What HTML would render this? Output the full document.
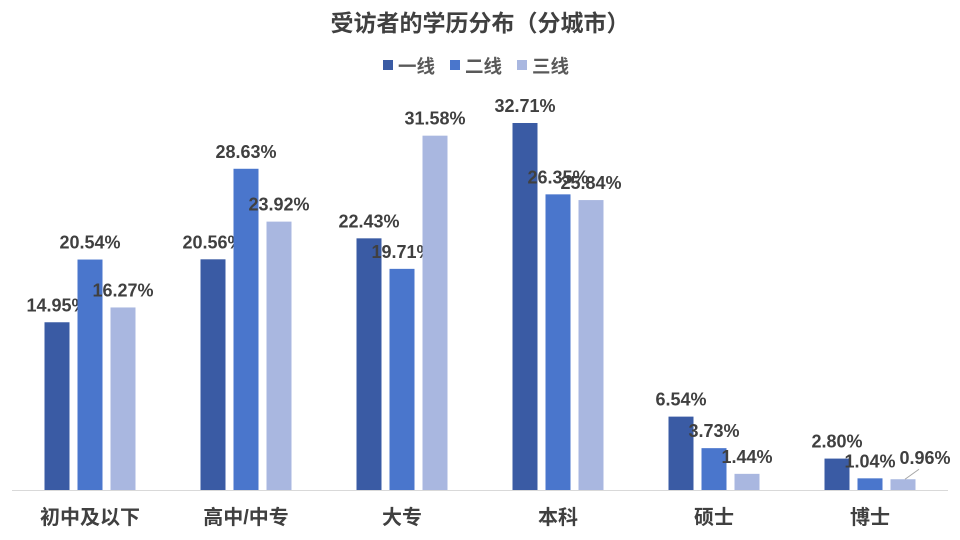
<!DOCTYPE html>
<html><head><meta charset="utf-8"><style>
body{margin:0;background:#fff}
svg{display:block;font-family:"Liberation Sans","Noto Sans CJK SC",sans-serif}
</style></head><body>
<svg id="c" width="960" height="540">
<text x="480" y="31" text-anchor="middle" font-size="23" font-weight="bold" fill="#404040">受访者的学历分布（分城市）</text>
<g>
<rect x="383" y="60" width="10" height="10" fill="#3A5BA4"/>
<text x="398" y="73" font-size="18.5" font-weight="bold" fill="#595959">一线</text>
<rect x="450" y="60" width="10" height="10" fill="#4A76CC"/>
<text x="465" y="73" font-size="18.5" font-weight="bold" fill="#595959">二线</text>
<rect x="517" y="60" width="10" height="10" fill="#A9B7E0"/>
<text x="532" y="73" font-size="18.5" font-weight="bold" fill="#595959">三线</text>
</g>
<line x1="12" y1="490.5" x2="948" y2="490.5" stroke="#D9D9D9"/>
</svg>
<script>
const categories=["初中及以下","高中/中专","大专","本科","硕士","博士"];
const tier1=[14.95,20.56,22.43,32.71,6.54,2.80];
const tier2=[20.54,28.63,19.71,26.35,3.73,1.04];
const tier3=[16.27,23.92,31.58,25.84,1.44,0.96];
const series=[tier1,tier2,tier3];
const seriesNames=["tier1","tier2","tier3"];
const colors=["#3A5BA4","#4A76CC","#A9B7E0"];
const svg=document.getElementById('c');
const NS="http://www.w3.org/2000/svg";
const base=490, pxPer=11.22, left=12, groupW=156, barW=25, step=33;
function y(v){return base-v*pxPer;}
function gx(i){return left+groupW*i+groupW/2;}
categories.forEach((cat,i)=>{
  const t=document.createElementNS(NS,'text');
  t.setAttribute('x',gx(i));t.setAttribute('y',524);
  t.setAttribute('text-anchor','middle');t.setAttribute('font-size','20');
  t.setAttribute('font-weight','bold');t.setAttribute('fill','#404040');
  t.textContent=cat;
  
  
  svg.appendChild(t);
  series.forEach((s,k)=>{
    const v=s[i];
    const bx=gx(i)+(k-1)*step-barW/2;
    const r=document.createElementNS(NS,'rect');
    r.setAttribute('x',bx);r.setAttribute('y',y(v));
    r.setAttribute('width',barW);r.setAttribute('height',base-y(v));
    r.setAttribute('fill',colors[k]);
    
    
    svg.appendChild(r);
    let lx=bx+barW/2, ly=y(v)-11;
    if(i===5&&k===2){lx+=22;ly=y(v)-15;
      const l=document.createElementNS(NS,'line');
      l.setAttribute('x1',bx+barW/2+2);l.setAttribute('y1',y(v));
      l.setAttribute('x2',bx+barW/2+16);l.setAttribute('y2',y(v)-10);
      l.setAttribute('stroke','#A6A6A6');
      
      
      svg.appendChild(l);}
    const tl=document.createElementNS(NS,'text');
    tl.setAttribute('x',lx);tl.setAttribute('y',ly);
    tl.setAttribute('text-anchor','middle');tl.setAttribute('font-size','18');
    tl.setAttribute('font-weight','bold');tl.setAttribute('fill','#404040');
    tl.textContent=v.toFixed(2)+'%';
    
    
    svg.appendChild(tl);
  });
});
</script>
</body></html>
